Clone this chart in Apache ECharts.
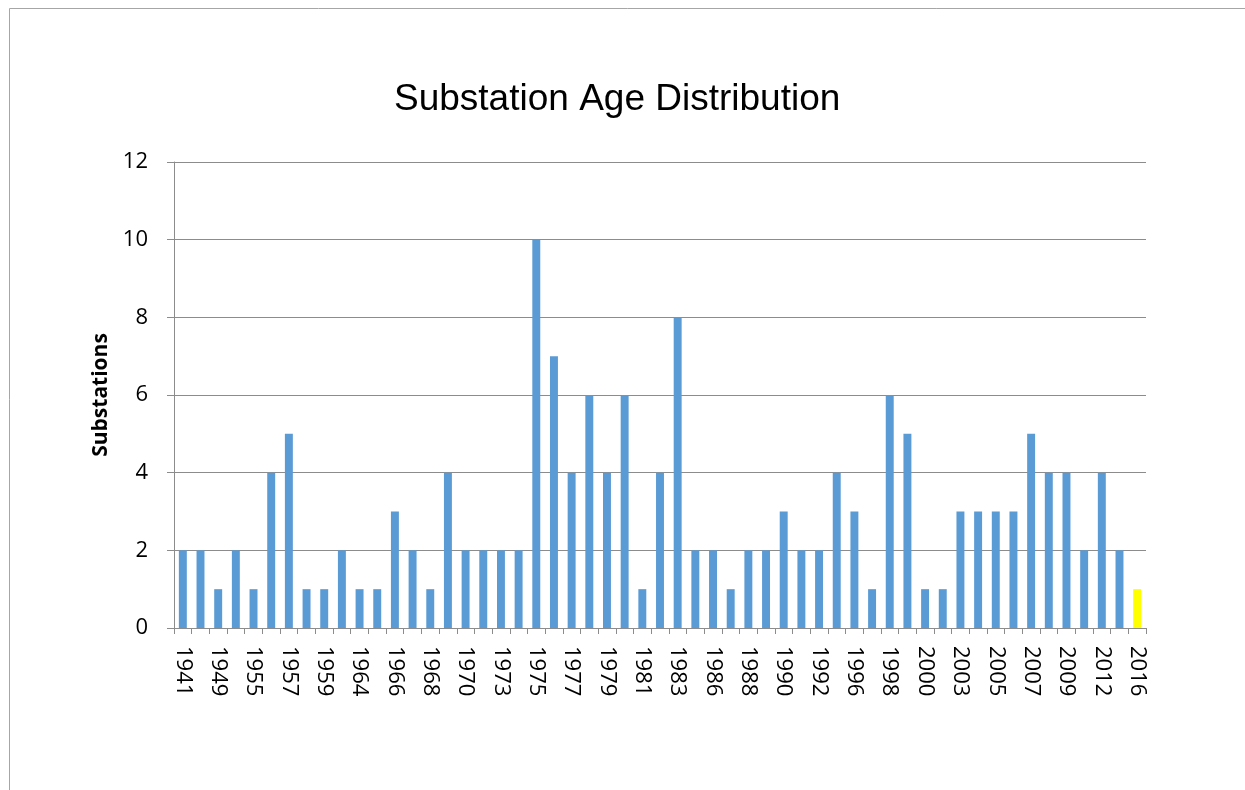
<!DOCTYPE html>
<html><head><meta charset="utf-8">
<script src="https://cdn.jsdelivr.net/npm/echarts@6/dist/echarts.min.js"></script>
<style>html,body{margin:0;padding:0;background:#fff}#c{width:1245px;height:790px}</style>
</head><body><div id="c"></div>
<script>
const categories = ['1941','1947','1949','1952','1955','1956','1957','1958','1959','1962','1964','1965','1966','1967','1968','1969','1970','1971','1973','1974','1975','1976','1977','1978','1979','1980','1981','1982','1983','1984','1986','1987','1988','1989','1990','1991','1992','1994','1996','1997','1998','1999','2000','2002','2003','2004','2005','2006','2007','2008','2009','2010','2012','2014','2016'];
const values = [2,2,1,2,1,4,5,1,1,2,1,1,3,2,1,4,2,2,2,2,10,7,4,6,4,6,1,4,8,2,2,1,2,2,3,2,2,4,3,1,6,5,1,1,3,3,3,3,5,4,4,2,4,2,1];
const highlightIndex = [54];
const yTicks = [0,2,4,6,8,10,12];

const chart = echarts.init(document.getElementById('c'));
chart.setOption({
  animation:false,
  title:{text:'Substation Age Distribution',left:389,top:76,textStyle:{fontFamily:'Liberation Sans',fontSize:37,fontWeight:'normal',color:'#000'}},
  graphic:[{type:'rect',shape:{x:9.5,y:8.5,width:1400,height:900},style:{fill:'none',stroke:'#a6a6a6',lineWidth:1},silent:true}],
  grid:{left:174,right:99,top:162,bottom:162},
  xAxis:{type:'category',data:categories,
    axisLine:{lineStyle:{color:'#8c8c8c',width:1}},
    axisTick:{show:true,length:6,alignWithLabel:false,interval:0,lineStyle:{color:'#8c8c8c'}},
    axisLabel:{interval:1,rotate:-90,fontFamily:'Open Sans',fontSize:22,color:'#000',margin:18}},
  yAxis:{type:'value',min:0,max:12,interval:2,
    name:'Substations',nameLocation:'middle',nameGap:60,nameRotate:90,
    nameTextStyle:{fontFamily:'Open Sans',fontSize:21,fontWeight:'bold',color:'#000'},
    axisLine:{show:true,lineStyle:{color:'#8c8c8c'}},
    axisTick:{show:true,length:7,lineStyle:{color:'#8c8c8c'}},
    splitLine:{lineStyle:{color:'#8c8c8c'}},
    axisLabel:{fontFamily:'Open Sans',fontSize:22,color:'#000',margin:26,
      formatter:v=>yTicks.includes(v)?String(v):''}},
  series:[{type:'bar',barCategoryGap:'55%',
    data:values.map((v,i)=>({value:v,itemStyle:{color:highlightIndex.includes(i)?'#FFFF00':'#5B9BD5'}}))}]
});
</script></body></html>
